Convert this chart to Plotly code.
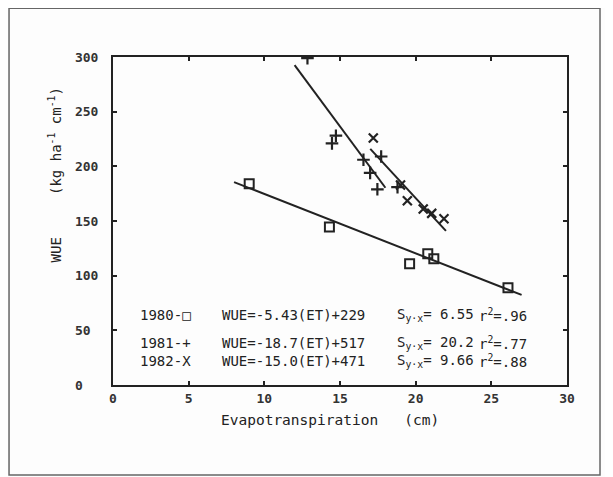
import plotly.graph_objects as go

# ---- data ----
et_1980 = [9.0, 14.3, 19.6, 20.8, 21.2, 26.1]
wue_1980 = [184, 144.5, 111, 120, 115.5, 89]

et_1981 = [12.85, 14.47, 14.73, 16.55, 16.99, 17.47, 17.72, 18.8]
wue_1981 = [299, 221, 228, 206, 194, 179, 209, 181]

et_1982 = [17.2, 19.0, 19.45, 20.5, 21.06, 21.87]
wue_1982 = [226, 183, 168.6, 161, 157, 152]

# regression fits (slope, intercept, x extent of drawn line)
fit_slopes = [-5.43, -18.7, -15.0]
fit_intercepts = [229, 517, 471]
fit_xranges = [[8, 27], [12, 18], [17, 22]]

legend_years = ["1980-\u25a1", "1981-+", "1982-X"]
legend_eqs = ["WUE=-5.43(ET)+229", "WUE=-18.7(ET)+517", "WUE=-15.0(ET)+471"]
legend_syx = ["6.55", "20.2", "9.66"]
legend_r2 = [".96", ".77", ".88"]

x_ticks = [0, 5, 10, 15, 20, 25, 30]
y_ticks = [0, 50, 100, 150, 200, 250, 300]
y_ticktext = ["0\u00a0\u00a0", "50\u00a0", "100", "150", "200", "250", "300"]

INK = "#222222"
FONT = "DejaVu Sans Mono"

fig = go.Figure()

# regression lines
for s, b, xr in zip(fit_slopes, fit_intercepts, fit_xranges):
    fig.add_trace(go.Scatter(
        x=xr, y=[s * xr[0] + b, s * xr[1] + b], mode="lines",
        line=dict(color=INK, width=2), showlegend=False, hoverinfo="skip"))

fig.add_trace(go.Scatter(x=et_1980, y=wue_1980, mode="markers", name="1980",
                         marker=dict(symbol="square-open", size=9, color=INK,
                                     line=dict(width=2, color=INK)),
                         showlegend=False, cliponaxis=False))
fig.add_trace(go.Scatter(x=et_1981, y=wue_1981, mode="markers", name="1981",
                         marker=dict(symbol="cross-thin-open", size=9, color=INK,
                                     line=dict(width=2.2, color=INK)),
                         showlegend=False, cliponaxis=True))
fig.add_trace(go.Scatter(x=et_1982, y=wue_1982, mode="markers", name="1982",
                         marker=dict(symbol="x-thin-open", size=9, color=INK,
                                     line=dict(width=2.2, color=INK)),
                         showlegend=False, cliponaxis=False))

# in-plot legend / equations text
row_y = [64.4, 38.8, 21.5]
annos = []
tf = dict(family=FONT, size=14, color=INK)
for i in range(3):
    annos.append(dict(x=1.68, y=row_y[i], xref="x", yref="y", text=legend_years[i],
                      showarrow=False, xanchor="left", yanchor="middle", font=tf))
    annos.append(dict(x=7.09, y=row_y[i], xref="x", yref="y", text=legend_eqs[i],
                      showarrow=False, xanchor="left", yanchor="middle", font=tf))
    annos.append(dict(x=18.64, y=row_y[i], xref="x", yref="y",
                      text="S<sub>y\u00b7x</sub>= " + legend_syx[i],
                      showarrow=False, xanchor="left", yanchor="middle", font=tf))
    annos.append(dict(x=24.05, y=row_y[i], xref="x", yref="y",
                      text="r<sup>2</sup>=" + legend_r2[i],
                      showarrow=False, xanchor="left", yanchor="middle", font=tf))

# y axis title
annos.append(dict(x=-0.127, y=0.64, xref="paper", yref="paper",
                  text="WUE\u00a0\u00a0\u00a0\u00a0\u00a0(kg ha<sup>-1</sup> cm<sup>-1</sup>)",
                  textangle=-90, showarrow=False, xanchor="center", yanchor="middle",
                  font=tf))
# x axis title (slightly left of centre, as in the reference)
annos.append(dict(x=0.234, y=-0.108, xref="paper", yref="paper",
                  text="Evapotranspiration\u00a0\u00a0\u00a0(cm)",
                  showarrow=False, xanchor="left", yanchor="middle",
                  font=dict(family=FONT, size=14.5, color=INK)))

# page body has an 8px margin, so the figure is 8px smaller and margins shifted
fig.update_layout(
    width=605, height=469, autosize=False,
    margin=dict(l=105, r=46, t=49, b=92),
    paper_bgcolor="#fdfdfd", plot_bgcolor="#fdfdfd",
    annotations=annos,
    shapes=[dict(type="rect", xref="paper", yref="paper",
                 x0=-0.229, x1=1.0727, y0=-0.2744, y1=1.149,
                 line=dict(color="#666666", width=1.5), layer="below")],
    xaxis=dict(range=[0, 30], tickvals=x_ticks, ticktext=[str(v) for v in x_ticks],
               ticks="inside", ticklen=4, tickwidth=1.5, tickcolor=INK,
               showline=True, linewidth=2, linecolor=INK, mirror="ticks",
               showgrid=False, zeroline=False,
               tickfont=dict(family=FONT, size=13, color="#333333", weight="bold")),
    yaxis=dict(range=[0, 300], tickvals=y_ticks, ticktext=y_ticktext,
               ticks="inside", ticklen=4, tickwidth=1.5, tickcolor=INK,
               showline=True, linewidth=2, linecolor=INK, mirror="ticks",
               showgrid=False, zeroline=False, ticklabelstandoff=10,
               tickfont=dict(family=FONT, size=13, color="#333333", weight="bold")),
)

fig.write_html("out.html")
